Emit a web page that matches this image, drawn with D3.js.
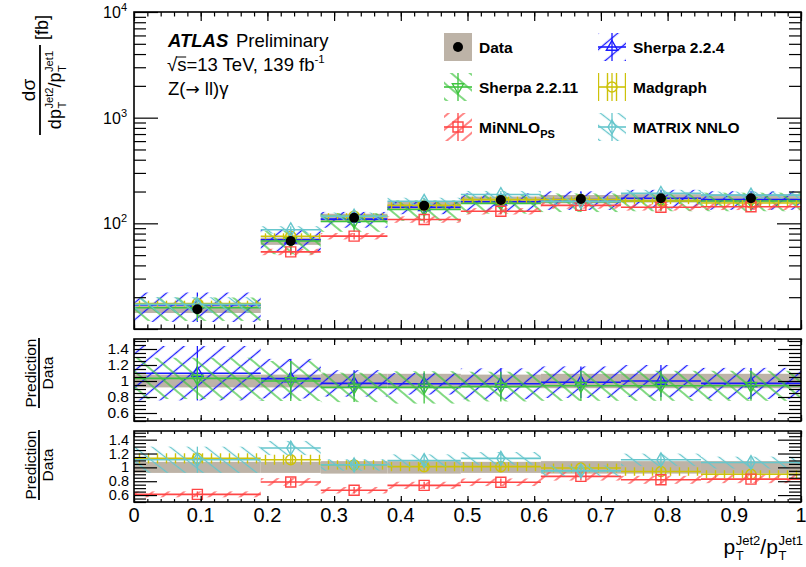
<!DOCTYPE html>
<html>
<head>
<meta charset="utf-8">
<script src="https://cdn.jsdelivr.net/npm/d3@7"></script>
<style>
  body { margin: 0; background: #fff; }
  svg { display: block; font-family: "Liberation Sans", Arial, Helvetica, sans-serif; }
</style>
</head>
<body>
<svg id="chart" width="806" height="567"></svg>
<script>
// ---- Binning and measured cross sections (fb) ----
const binEdges   = [0, 0.19, 0.28, 0.38, 0.49, 0.61, 0.73, 0.85, 1.0];
const dataValues = [15.4, 68, 113, 147, 166, 170, 173, 173];
const dataRelUnc = [0.08, 0.08, 0.09, 0.09, 0.08, 0.09, 0.09, 0.09];

// ---- Predictions (fb) and their relative uncertainties ----
const sherpa224      = [16.9, 70.0, 109.6, 141.9, 160.2, 167.5, 173.0, 167.8];
const sherpa224Unc   = [0.31, 0.24, 0.17, 0.14, 0.20, 0.20, 0.20, 0.20];
const sherpa2211     = [15.9, 68.0, 104.0, 135.2, 154.4, 159.8, 162.6, 162.6];
const sherpa2211Unc  = [0.25, 0.25, 0.20, 0.22, 0.20, 0.20, 0.20, 0.20];
const madgraph       = [17.4, 75.5, 117.0, 148.5, 167.7, 168.3, 162.6, 155.7];
const madgraphUnc    = [0.065, 0.065, 0.065, 0.065, 0.065, 0.065, 0.065, 0.065];
const minnlo         = [9.4, 53.7, 75.7, 108.8, 130.3, 147.9, 141.9, 143.6];
const minnloUnc      = [0.07, 0.07, 0.07, 0.07, 0.07, 0.07, 0.07, 0.07];
const matrixNNLO     = [17.1, 87.0, 117.0, 161.7, 187.6, 161.5, 192.0, 185.0];
const matrixNNLOUnc  = [0.17, 0.08, 0.08, 0.08, 0.08, 0.08, 0.08, 0.08];

// ---- Axis ticks ----
const xTicks      = [0, 0.1, 0.2, 0.3, 0.4, 0.5, 0.6, 0.7, 0.8, 0.9, 1];
const xTickLabels = ["0", "0.1", "0.2", "0.3", "0.4", "0.5", "0.6", "0.7", "0.8", "0.9", "1"];
const yDecades    = [10, 100, 1000, 10000];
const yDecadeExp  = ["1", "2", "3", "4"];
const ratioTicks      = [0.6, 0.8, 1.0, 1.2, 1.4];
const ratioTickLabels = ["0.6", "0.8", "1", "1.2", "1.4"];

const C = {
  blue: "#1a1aff", green: "#3ec43e", yellow: "#cdc20a",
  red: "#ff4646", cyan: "#66c6cc", band: "#bdb3a7"
};

const svg = d3.select("#chart");
const defs = svg.append("defs");

// ---- Panels ----
const X0 = 134, X1 = 801;
const pMain = { y0: 12,  y1: 329 };
const pR1   = { y0: 339, y1: 421 };
const pR2   = { y0: 431, y1: 502 };

const x = d3.scaleLinear().domain([0, 1]).range([X0, X1]);
const y = d3.scaleLog().domain([10, 10000]).range([pMain.y1, pMain.y0]);
const yr1 = d3.scaleLinear().domain([0.5, 1.525]).range([pR1.y1, pR1.y0]);
const yr2 = d3.scaleLinear().domain([0.5, 1.525]).range([pR2.y1, pR2.y0]);

// hatch patterns: vertical strokes rotated by the given angle
function hatch(id, color, angle, spacing, width) {
  const p = defs.append("pattern").attr("id", id)
    .attr("patternUnits", "userSpaceOnUse")
    .attr("width", spacing).attr("height", spacing)
    .attr("patternTransform", `rotate(${angle})`);
  p.append("line").attr("x1", spacing / 2).attr("y1", -1)
    .attr("x2", spacing / 2).attr("y2", spacing + 1)
    .attr("stroke", color).attr("stroke-width", width);
}
hatch("h-blue",   C.blue,   50, 13, 1.3);
hatch("h-green",  C.green, -50, 12, 1.3);
hatch("h-yellow", C.yellow,  0,  9, 1.4);
hatch("h-red",    C.red,    50, 10, 1.3);
hatch("h-cyan",   C.cyan,  -52, 11, 1.3);

function clip(id, p) {
  defs.append("clipPath").attr("id", id).append("rect")
    .attr("x", X0).attr("y", p.y0).attr("width", X1 - X0).attr("height", p.y1 - p.y0);
}
clip("cp-main", pMain); clip("cp-r1", pR1); clip("cp-r2", pR2);

const bins = d3.range(binEdges.length - 1).map(i => ({
  i, lo: binEdges[i], hi: binEdges[i + 1], mid: (binEdges[i] + binEdges[i + 1]) / 2
}));

const series = {
  sherpa224:  { vals: sherpa224,  unc: sherpa224Unc,  color: C.blue,   pat: "h-blue",   marker: "triUp" },
  sherpa2211: { vals: sherpa2211, unc: sherpa2211Unc, color: C.green,  pat: "h-green",  marker: "triDown" },
  madgraph:   { vals: madgraph,   unc: madgraphUnc,   color: C.yellow, pat: "h-yellow", marker: "circle" },
  minnlo:     { vals: minnlo,     unc: minnloUnc,     color: C.red,    pat: "h-red",    marker: "square" },
  matrix:     { vals: matrixNNLO, unc: matrixNNLOUnc, color: C.cyan,   pat: "h-cyan",   marker: "diamond" }
};

function marker(g, type, cx, cy, color) {
  const s = g.append("path").attr("fill", "none").attr("stroke", color).attr("stroke-width", 1.4);
  const sym = {
    triUp:   d3.symbol(d3.symbolTriangle, 55),
    triDown: d3.symbol(d3.symbolTriangle, 55),
    circle:  d3.symbol(d3.symbolCircle, 80),
    square:  d3.symbol(d3.symbolSquare, 100),
    diamond: d3.symbol(d3.symbolDiamond, 55)
  }[type];
  s.attr("d", sym()).attr("transform", `translate(${cx},${cy})` + (type === "triDown" ? " rotate(180)" : ""));
}

// Draws one prediction: hatched band, central line, vertical bar, marker
function drawSeries(g, s, ys, valueOf) {
  const [d0, d1] = ys.domain();
  bins.forEach(b => {
    const v = valueOf(b.i), lo = v * (1 - s.unc[b.i]), hi = v * (1 + s.unc[b.i]);
    g.append("rect").attr("x", x(b.lo)).attr("width", x(b.hi) - x(b.lo))
      .attr("y", ys(hi)).attr("height", ys(lo) - ys(hi)).attr("fill", `url(#${s.pat})`);
  });
  bins.forEach(b => {
    const v = valueOf(b.i), lo = v * (1 - s.unc[b.i]), hi = v * (1 + s.unc[b.i]);
    if (v < d0 || v > d1) return;   // centre outside the frame: no line or marker
    g.append("line").attr("x1", x(b.lo)).attr("x2", x(b.hi)).attr("y1", ys(v)).attr("y2", ys(v))
      .attr("stroke", s.color).attr("stroke-width", 1.6);
    g.append("line").attr("x1", x(b.mid)).attr("x2", x(b.mid)).attr("y1", ys(hi)).attr("y2", ys(lo))
      .attr("stroke", s.color).attr("stroke-width", 1.3);
    marker(g, s.marker, x(b.mid), ys(v), s.color);
  });
}

function dataBand(g, ys, valueOf) {
  bins.forEach(b => {
    const v = valueOf(b.i);
    g.append("rect").attr("x", x(b.lo)).attr("width", x(b.hi) - x(b.lo))
      .attr("y", ys(v * (1 + dataRelUnc[b.i])))
      .attr("height", ys(v * (1 - dataRelUnc[b.i])) - ys(v * (1 + dataRelUnc[b.i])))
      .attr("fill", C.band);
  });
}

// ---- Cross-section panel ----
const gMain = svg.append("g").attr("clip-path", "url(#cp-main)");
dataBand(gMain, y, i => dataValues[i]);
["sherpa224", "sherpa2211", "madgraph", "minnlo", "matrix"].forEach(k =>
  drawSeries(gMain, series[k], y, i => series[k].vals[i]));
bins.forEach(b => {
  gMain.append("circle").attr("cx", x(b.mid)).attr("cy", y(dataValues[b.i])).attr("r", 5).attr("fill", "#000");
});

// ---- Ratio panels ----
const gR1 = svg.append("g").attr("clip-path", "url(#cp-r1)");
dataBand(gR1, yr1, () => 1);
["sherpa224", "sherpa2211"].forEach(k =>
  drawSeries(gR1, series[k], yr1, i => series[k].vals[i] / dataValues[i]));

const gR2 = svg.append("g").attr("clip-path", "url(#cp-r2)");
dataBand(gR2, yr2, () => 1);
["madgraph", "minnlo", "matrix"].forEach(k =>
  drawSeries(gR2, series[k], yr2, i => series[k].vals[i] / dataValues[i]));

// ---- Axes (ticks pointing inwards on all four sides) ----
function strip(sel) { sel.select(".domain").remove(); sel.selectAll("line").attr("stroke", "#000").attr("stroke-width", 1.2); }
const xMinor = d3.range(0, 1.0001, 0.02).map(v => +v.toFixed(2));

function xAxes(p, maj, min) {
  svg.append("g").attr("transform", `translate(0,${p.y1})`)
    .call(d3.axisBottom(x).tickValues(xMinor).tickSize(-min).tickFormat("")).call(strip);
  svg.append("g").attr("transform", `translate(0,${p.y1})`)
    .call(d3.axisBottom(x).tickValues(xTicks).tickSize(-maj).tickFormat("")).call(strip);
  svg.append("g").attr("transform", `translate(0,${p.y0})`)
    .call(d3.axisTop(x).tickValues(xMinor).tickSize(-min).tickFormat("")).call(strip);
  svg.append("g").attr("transform", `translate(0,${p.y0})`)
    .call(d3.axisTop(x).tickValues(xTicks).tickSize(-maj).tickFormat("")).call(strip);
}
function yAxes(ys, majVals, minVals, maj, min) {
  [[d3.axisLeft, X0], [d3.axisRight, X1]].forEach(([ax, px]) => {
    svg.append("g").attr("transform", `translate(${px},0)`)
      .call(ax(ys).tickValues(minVals).tickSize(-min).tickFormat("")).call(strip);
    svg.append("g").attr("transform", `translate(${px},0)`)
      .call(ax(ys).tickValues(majVals).tickSize(-maj).tickFormat("")).call(strip);
  });
}

xAxes(pMain, 9, 4.5);
const logMinor = [];
[10, 100, 1000].forEach(d => { for (let k = 2; k <= 9; k++) logMinor.push(d * k); });
yAxes(y, yDecades, logMinor, 24, 12);
const rMinor = d3.range(0.5, 1.5251, 0.05).map(v => +v.toFixed(2)).filter(v => !ratioTicks.includes(v));
xAxes(pR1, 6, 3);
yAxes(yr1, ratioTicks, rMinor, 23, 12);
xAxes(pR2, 6, 3);
yAxes(yr2, ratioTicks, rMinor, 23, 12);

// frames
[pMain, pR1, pR2].forEach(p => svg.append("rect")
  .attr("x", X0).attr("y", p.y0).attr("width", X1 - X0).attr("height", p.y1 - p.y0)
  .attr("fill", "none").attr("stroke", "#000").attr("stroke-width", 1.6));

// ---- Tick labels ----
yDecades.forEach((d, i) => {
  if (d === 10) return;
  const t = svg.append("text").attr("x", 127).attr("y", y(d) + 6)
    .attr("text-anchor", "end").attr("font-size", 16);
  t.append("tspan").text("10");
  t.append("tspan").attr("font-size", 11).attr("dy", -7).text(yDecadeExp[i]);
});
[[yr1, 15.5], [yr2, 14.5]].forEach(([ys, fs]) => ratioTicks.forEach((v, i) => {
  svg.append("text").attr("x", 129).attr("y", ys(v) + fs * 0.35).attr("text-anchor", "end")
    .attr("font-size", fs).text(ratioTickLabels[i]);
}));
xTicks.forEach((v, i) => {
  svg.append("text").attr("x", x(v)).attr("y", 522).attr("text-anchor", "middle")
    .attr("font-size", 20).text(xTickLabels[i]);
});

// ---- Rich text helpers ----
// p_T with a superscript label stacked over the T subscript
function pT(g, x0, base, fs, sup) {
  const p = g.append("text").attr("x", x0).attr("y", base).attr("font-size", fs).text("p");
  const w = p.node().getComputedTextLength();
  const s = fs * 0.62;
  const tSub = g.append("text").attr("x", x0 + w + 0.5).attr("y", base + fs * 0.3).attr("font-size", s).text("T");
  const tSup = g.append("text").attr("x", x0 + w + 0.5).attr("y", base - fs * 0.42).attr("font-size", s).text(sup);
  return x0 + w + 0.5 + Math.max(tSub.node().getComputedTextLength(), tSup.node().getComputedTextLength());
}
function word(g, x0, base, fs, str, weight) {
  const t = g.append("text").attr("x", x0).attr("y", base).attr("font-size", fs).text(str);
  if (weight) t.attr("font-weight", weight);
  return x0 + t.node().getComputedTextLength();
}

// x-axis title
{
  const g = svg.append("g");
  let cx = pT(g, 0, 0, 21, "Jet2");
  cx = word(g, cx, 0, 21, "/");
  cx = pT(g, cx, 0, 21, "Jet1");
  g.attr("transform", `translate(${803 - cx},554)`);
}

// y-axis title of the cross-section panel
{
  const g = svg.append("g").attr("transform", "translate(40,90) rotate(-90)");
  g.append("line").attr("x1", -45).attr("x2", 45).attr("y1", 0).attr("y2", 0)
    .attr("stroke", "#000").attr("stroke-width", 1.8);
  g.append("text").attr("x", 0).attr("y", -5).attr("text-anchor", "middle").attr("font-size", 19).text("dσ");
  const den = g.append("g");
  let cx = word(den, 0, 0, 18, "d");
  cx = pT(den, cx, 0, 18, "Jet2");
  cx = word(den, cx, 0, 18, "/");
  cx = pT(den, cx, 0, 18, "Jet1");
  den.attr("transform", `translate(${-cx / 2},21)`);
  g.append("text").attr("x", 50).attr("y", 8).attr("font-size", 18).text("[fb]");
}

// ratio y titles
[373, 465].forEach(cy => {
  const g = svg.append("g").attr("transform", `translate(39,${cy}) rotate(-90)`);
  g.append("line").attr("x1", -35).attr("x2", 35).attr("y1", 0).attr("y2", 0)
    .attr("stroke", "#000").attr("stroke-width", 1.8);
  g.append("text").attr("x", 0).attr("y", -3).attr("text-anchor", "middle").attr("font-size", 15.5).text("Prediction");
  g.append("text").attr("x", 0).attr("y", 14).attr("text-anchor", "middle").attr("font-size", 15.5).text("Data");
});

// ---- ATLAS label ----
{
  const g = svg.append("g");
  const fs = 18.5;
  g.append("text").attr("x", 168).attr("y", 47).attr("font-size", fs)
    .attr("font-weight", "bold").attr("font-style", "italic").text("ATLAS");
  g.append("text").attr("x", 236).attr("y", 47).attr("font-size", fs).text("Preliminary");
  let cx = word(g, 167, 71, fs, "√");
  g.append("line").attr("x1", cx - 1).attr("x2", cx + 9).attr("y1", 57).attr("y2", 57)
    .attr("stroke", "#000").attr("stroke-width", 1);
  cx = word(g, cx, 71, fs, "s=13 TeV, 139 fb");
  g.append("text").attr("x", cx).attr("y", 63).attr("font-size", 11.5).text("-1");
  const z = g.append("text").attr("x", 168).attr("y", 95).attr("font-size", fs);
  z.append("tspan").text("Z(");
  z.append("tspan").attr("font-family", "'DejaVu Sans', sans-serif").attr("font-size", 17).text("→");
  z.append("tspan").text(" ll)γ");
}

// ---- Legend ----
const legendRows = [47, 87, 127];
const legendCols = [444, 598];
function legendSymbol(xL, cy, s) {
  const g = svg.append("g");
  const w = 28, h = 28;
  g.append("rect").attr("x", xL).attr("y", cy - h / 2).attr("width", w).attr("height", h)
    .attr("fill", `url(#${s.pat})`);
  g.append("line").attr("x1", xL).attr("x2", xL + w).attr("y1", cy).attr("y2", cy)
    .attr("stroke", s.color).attr("stroke-width", 1.6);
  g.append("line").attr("x1", xL + w / 2).attr("x2", xL + w / 2).attr("y1", cy - h / 2).attr("y2", cy + h / 2)
    .attr("stroke", s.color).attr("stroke-width", 1.3);
  marker(g, s.marker, xL + w / 2, cy, s.color);
}
function legendText(xL, cy, str, sub) {
  const t = svg.append("text").attr("x", xL).attr("y", cy + 5.5).attr("font-size", 15.5).attr("font-weight", "bold");
  t.append("tspan").text(str);
  if (sub) t.append("tspan").attr("font-size", 11).attr("dy", 5).text(sub);
}
svg.append("rect").attr("x", legendCols[0]).attr("y", legendRows[0] - 14).attr("width", 28).attr("height", 28).attr("fill", C.band);
svg.append("circle").attr("cx", legendCols[0] + 14).attr("cy", legendRows[0]).attr("r", 5).attr("fill", "#000");
legendText(legendCols[0] + 35, legendRows[0], "Data");
legendSymbol(legendCols[1], legendRows[0], series.sherpa224);
legendText(legendCols[1] + 35, legendRows[0], "Sherpa 2.2.4");
legendSymbol(legendCols[0], legendRows[1], series.sherpa2211);
legendText(legendCols[0] + 35, legendRows[1], "Sherpa 2.2.11");
legendSymbol(legendCols[1], legendRows[1], series.madgraph);
legendText(legendCols[1] + 35, legendRows[1], "Madgraph");
legendSymbol(legendCols[0], legendRows[2], series.minnlo);
legendText(legendCols[0] + 35, legendRows[2], "MiNNLO", "PS");
legendSymbol(legendCols[1], legendRows[2], series.matrix);
legendText(legendCols[1] + 35, legendRows[2], "MATRIX NNLO");
</script>
</body>
</html>
